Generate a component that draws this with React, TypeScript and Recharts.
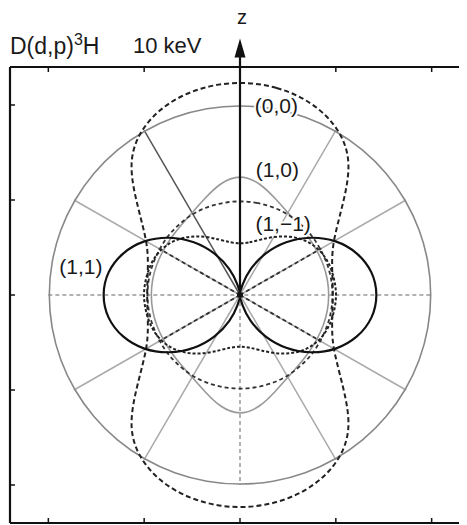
import React from "react";
import { ComposedChart, Line, XAxis, YAxis, ReferenceLine, ReferenceDot } from "recharts";

// Polar angle measured from the +z axis (degrees), first quadrant; curves are mirror-symmetric.
const ANGLES = [0, 10, 20, 30, 40, 50, 60, 70, 80, 90];

// Radial values of the angular distributions at ANGLES
const S00 = [2.0, 2.0, 2.0, 2.0, 2.0, 2.0, 2.0, 2.0, 2.0, 2.0];
const S10 = [1.27, 1.2, 1.08, 1.0, 0.96, 0.94, 0.93, 0.93, 0.93, 0.93];
const S1M1 = [0.54, 0.56, 0.62, 0.71, 0.81, 0.9, 0.96, 0.99, 1.0, 1.01];
const S11 = [0, 0.1, 0.29, 0.51, 0.74, 0.96, 1.16, 1.31, 1.41, 1.44];
const ALT_OUTER = [2.25, 2.23, 2.17, 2.05, 1.83, 1.38, 1.12, 1.02, 0.98, 0.97];
const ALT_INNER = [0.99, 0.99, 0.99, 0.99, 0.98, 0.98, 0.97, 0.97, 0.97, 0.97];

const LABELS = [
  { text: "(0,0)", x: 0.38, y: 1.99 },
  { text: "(1,0)", x: 0.39, y: 1.32 },
  { text: "(1,\u22121)", x: 0.45, y: 0.75 },
  { text: "(1,1)", x: -1.66, y: 0.3 },
];

const SPOKES = [30, 60, 120, 150, 210, 240, 300, 330]; // degrees from +x
const INNER_SPOKES = [30, 150, 210, 330];
const GRID_RADIUS = 2;
const INNER_RADIUS = 0.98;
const AXIS_TICKS = [-2, -1, 0, 1, 2];
const DOMAIN: [number, number] = [-2.4, 2.4];
const Z_ARROW_TOP = 2.7;

const FONT = "'Liberation Sans', Arial, sans-serif";
const INK = "#1a1a1a";

function closedCurve(radii: number[]) {
  const pts: { x: number; y: number }[] = [];
  const push = (deg: number, r: number) => {
    const t = (deg * Math.PI) / 180;
    pts.push({ x: r * Math.sin(t), y: r * Math.cos(t) });
  };
  const n = ANGLES.length;
  for (let i = 0; i < n; i++) push(ANGLES[i], radii[i]);
  for (let i = n - 2; i >= 0; i--) push(180 - ANGLES[i], radii[i]);
  for (let i = 1; i < n; i++) push(180 + ANGLES[i], radii[i]);
  for (let i = n - 2; i >= 1; i--) push(360 - ANGLES[i], radii[i]);
  return pts;
}

const ray = (deg: number, r: number) => [
  { x: 0, y: 0 },
  { x: r * Math.cos((deg * Math.PI) / 180), y: r * Math.sin((deg * Math.PI) / 180) },
];

const ZArrow = (p: any) => {
  const { x1, y1, x2, y2 } = p;
  return (
    <g>
      <line x1={x1} y1={y1} x2={x2} y2={y2 + 14} stroke="#111" strokeWidth={2.2} />
      <polygon points={`${x2},${y2} ${x2 - 5.5},${y2 + 19} ${x2 + 5.5},${y2 + 19}`} fill="#111" />
      <text x={x2 + 2} y={y2 - 15} textAnchor="middle" fontSize={20} fontFamily={FONT} fill={INK}>
        z
      </text>
    </g>
  );
};

const CurveLabel = (text: string) => (p: any) => (
  <text
    x={p.cx}
    y={p.cy}
    textAnchor="middle"
    dominantBaseline="central"
    fontSize={21}
    fontFamily={FONT}
    fill={INK}
    stroke="#fff"
    strokeWidth={4}
    paintOrder="stroke"
  >
    {text}
  </text>
);

const axisProps = {
  type: "number" as const,
  domain: DOMAIN,
  allowDataOverflow: true,
  ticks: AXIS_TICKS,
  tickFormatter: () => "",
  mirror: true,
  tickSize: 5,
  axisLine: { stroke: "#111", strokeWidth: 2.2 },
  tickLine: { stroke: "#111", strokeWidth: 1.5 },
};

export default function App() {
  const common = { xAxisId: "b", yAxisId: "l", dataKey: "y", dot: false, isAnimationActive: false, type: "basisClosed" as const };
  return (
    <div style={{ position: "relative", width: 459, height: 525, marginTop: -8, overflow: "hidden" }}>
      <div
        style={{
          position: "absolute",
          left: 2,
          top: 35,
          fontFamily: FONT,
          fontSize: 22,
          lineHeight: "22px",
          color: INK,
          whiteSpace: "nowrap",
          zIndex: 2,
        }}
      >
        <span style={{ fontSize: 23 }}>
          D(d,p)
          <span style={{ fontSize: 16, position: "relative", top: -9 }}>3</span>H
        </span>
        <span style={{ position: "absolute", left: 123 }}>10 keV</span>
      </div>
      <ComposedChart width={470} height={525} margin={{ top: 67, left: 2, right: 8, bottom: 2 }}>
        <XAxis xAxisId="b" orientation="bottom" dataKey="x" {...axisProps} />
        <XAxis xAxisId="t" orientation="top" dataKey="x" {...axisProps} />
        <YAxis yAxisId="l" orientation="left" {...axisProps} />
        <YAxis yAxisId="r" orientation="right" {...axisProps} />

        {SPOKES.map((a) => (
          <ReferenceLine key={a} xAxisId="b" yAxisId="l" segment={ray(a, GRID_RADIUS)} stroke={a === 120 ? "#555" : "#aaa"} strokeWidth={1.5} />
        ))}
        <ReferenceLine xAxisId="b" yAxisId="l" segment={[{ x: -GRID_RADIUS, y: 0 }, { x: GRID_RADIUS, y: 0 }]} stroke="#999" strokeWidth={1.5} strokeDasharray="4 3" />
        <ReferenceLine xAxisId="b" yAxisId="l" segment={[{ x: 0, y: 0 }, { x: 0, y: -GRID_RADIUS }]} stroke="#999" strokeWidth={1.5} strokeDasharray="4 3" />
        {INNER_SPOKES.map((a) => (
          <ReferenceLine key={`i${a}`} xAxisId="b" yAxisId="l" segment={ray(a, INNER_RADIUS)} stroke="#333" strokeWidth={1.8} strokeDasharray="4 3" />
        ))}

        <Line {...common} data={closedCurve(S00)} stroke="#888" strokeWidth={1.6} />
        <Line {...common} data={closedCurve(S10)} stroke="#999" strokeWidth={1.6} />
        <Line {...common} data={closedCurve(ALT_INNER)} stroke="#333" strokeWidth={1.8} strokeDasharray="4 3" />
        <Line {...common} data={closedCurve(ALT_OUTER)} stroke="#222" strokeWidth={2} strokeDasharray="5 3" />
        <Line {...common} data={closedCurve(S1M1)} stroke="#222" strokeWidth={2} strokeDasharray="3 2" />
        <Line {...common} data={closedCurve(S11)} stroke="#111" strokeWidth={2.2} />

        <ReferenceDot xAxisId="b" yAxisId="l" x={0} y={0} r={3} fill="#111" stroke="none" />
        {LABELS.map((l) => (
          <ReferenceDot key={l.text} xAxisId="b" yAxisId="l" x={l.x} y={l.y} r={0} shape={CurveLabel(l.text)} />
        ))}
        <ReferenceLine xAxisId="b" yAxisId="l" segment={[{ x: 0, y: 0 }, { x: 0, y: Z_ARROW_TOP }]} ifOverflow="visible" shape={ZArrow} />
      </ComposedChart>
    </div>
  );
}
